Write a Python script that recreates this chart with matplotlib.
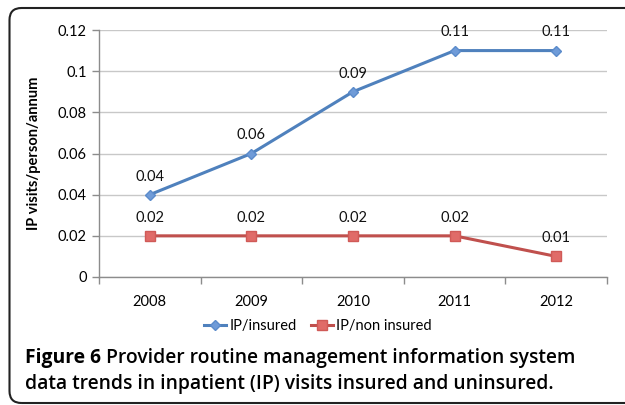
import matplotlib
matplotlib.use("Agg")
import matplotlib.pyplot as plt
from matplotlib.patches import FancyBboxPatch

years = ["2008", "2009", "2010", "2011", "2012"]
insured = [0.04, 0.06, 0.09, 0.11, 0.11]
non_insured = [0.02, 0.02, 0.02, 0.02, 0.01]
yticks = [0, 0.02, 0.04, 0.06, 0.08, 0.1, 0.12]
ytick_labels = ["0", "0.02", "0.04", "0.06", "0.08", "0.1", "0.12"]

plt.rcParams['font.family'] = ['Lato', 'DejaVu Sans']

fig = plt.figure(figsize=(6.25, 4.05), dpi=100)
ax = fig.add_axes([99/625, 128/405, 508/625, 247/405])

x = list(range(len(years)))
blue = "#4F81BD"
red = "#C0504D"
ax.plot(x, insured, color=blue, lw=2.2, marker="D", ms=5.5,
        mfc="#6F9BD8", mec="#5B8BCB", label="IP/insured", zorder=3)
ax.plot(x, non_insured, color=red, lw=2.2, marker="s", ms=6.5,
        mfc="#E06B68", mec="#D05A57", label="IP/non insured", zorder=3)

for xi, v in zip(x, insured):
    ax.annotate(f"{v:g}", (xi, v), xytext=(0, 8), textcoords="offset points",
                ha="center", va="bottom", fontsize=10.5, color="#111111")
for xi, v in zip(x, non_insured):
    ax.annotate(f"{v:g}", (xi, v), xytext=(0, 8), textcoords="offset points",
                ha="center", va="bottom", fontsize=10.5, color="#111111")

ax.set_xlim(-0.5, len(years) - 0.5)
ax.set_ylim(0, 0.12)
ax.set_yticks(yticks)
ax.set_yticklabels(ytick_labels, fontsize=10.5)
ax.set_xticks(x)
ax.set_xticklabels(years, fontsize=10.5)
ax.set_xticks([i - 0.5 for i in range(len(years) + 1)], minor=True)
ax.tick_params(axis="x", which="major", length=0, pad=13)
ax.tick_params(axis="x", which="minor", length=5, color="#8c8c8c", width=1)
ax.tick_params(axis="y", length=5, color="#8c8c8c", width=1, pad=4)
ax.grid(axis="y", color="#c8c8c8", lw=1)
ax.set_axisbelow(True)
for s in ["top", "right"]:
    ax.spines[s].set_visible(False)
for s in ["left", "bottom"]:
    ax.spines[s].set_color("#8c8c8c")
    ax.spines[s].set_linewidth(1)

ax.set_ylabel("IP visits/person/annum", fontsize=10.5, fontweight="bold", labelpad=12)

leg = fig.legend(loc="center", bbox_to_anchor=(318/625, 1 - 326/405), ncol=2,
                 frameon=False, fontsize=10.5, handlelength=1.5, handletextpad=0.2,
                 columnspacing=1.0, borderpad=0)

t1 = fig.text(25/625, 1 - 358/405, "Figure 6",
              fontsize=13.9, fontweight="bold", va="center", ha="left", family="Open Sans")
fig.canvas.draw()
bb = t1.get_window_extent()
fig.text((bb.x1 + 5) / 625, 1 - 358/405, "Provider routine management information system",
         fontsize=13.9, fontweight="semibold", va="center", ha="left", family="Open Sans")
fig.text(25/625, 1 - 384/405,
         "data trends in inpatient (IP) visits insured and uninsured.",
         fontsize=13.9, fontweight="semibold", va="center", ha="left", family="Open Sans")

frame = FancyBboxPatch((9.5 + 12, 2 + 12), 640 - 9.5 - 24, 397 - 2 - 24,
                       boxstyle="round,pad=12", transform=None,
                       fill=False, edgecolor="#222222", lw=1.5)
fig.patches.append(frame)

fig.savefig("out.png", dpi=100)
